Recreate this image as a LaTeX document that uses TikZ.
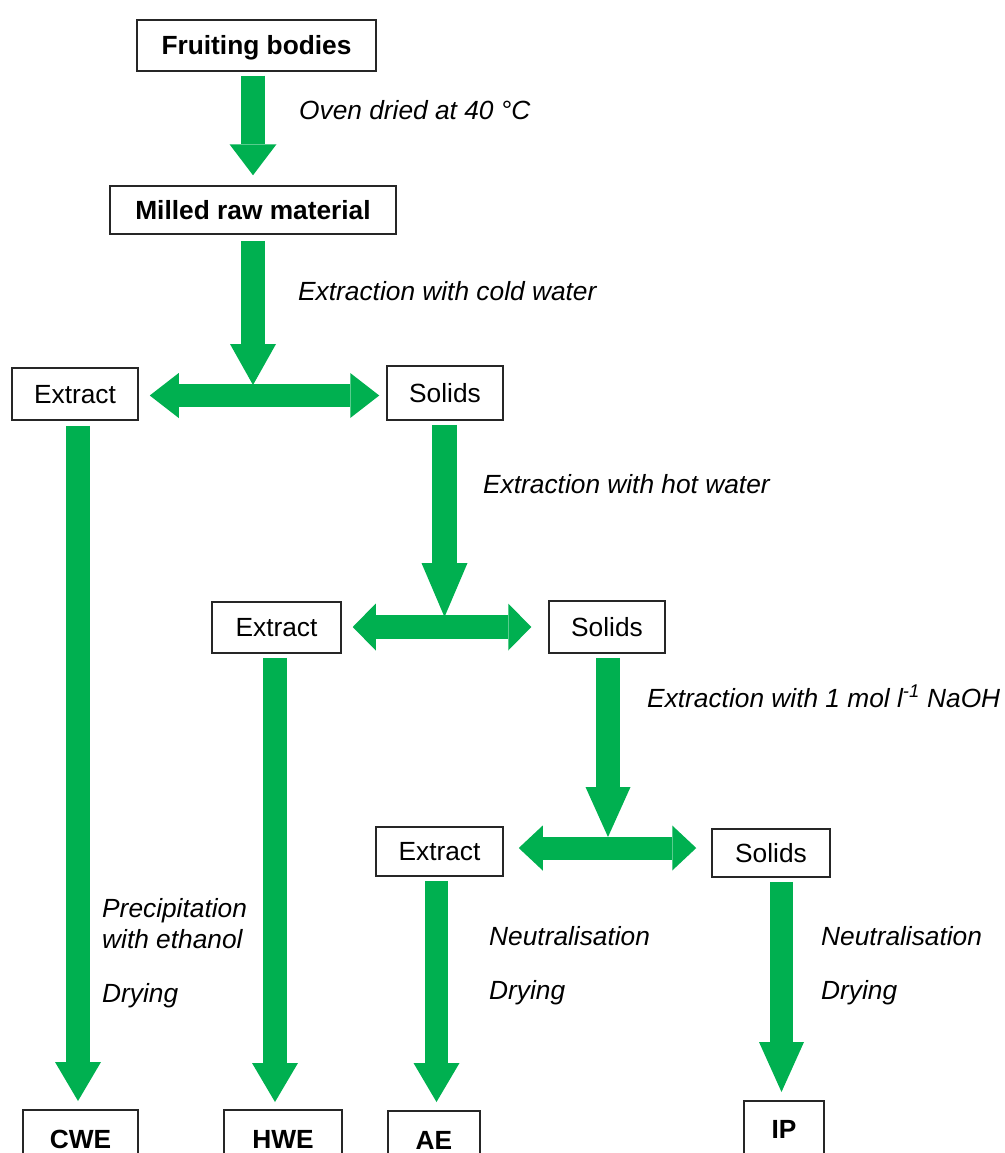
\documentclass[tikz,border=0pt]{standalone}
\usepackage{fontspec}
\setmainfont{Liberation Sans}
\usetikzlibrary{arrows.meta}
\definecolor{arrgreen}{RGB}{0,176,80}
\tikzset{
  box/.style={draw=black!85, line width=1.5pt, inner sep=0pt, text height=18.8pt, text depth=0pt, font=\fontsize{26.3}{31}\selectfont},
  boldbox/.style={box, font=\fontsize{26.3}{31}\selectfont\bfseries},
  lbl/.style={anchor=base west, inner sep=0pt, font=\fontsize{26.3}{31}\selectfont\itshape},
  fat/.style={draw=arrgreen, line width=#1},
  fat/.default=24pt,
}
\begin{document}
\begin{tikzpicture}[x=1pt,y=-1pt]
\useasboundingbox (0,0) rectangle (1004,1153);
\clip (0,0) rectangle (1004,1153);
% boxes
\node[boldbox, minimum width=239pt, minimum height=51pt] (fb) at (256.5,45.5) {Fruiting bodies};
\node[boldbox, minimum width=286pt, minimum height=48pt] (mrm) at (253,210) {Milled raw material};
\node[box, minimum width=126pt, minimum height=52pt] (ex1) at (75,394) {Extract};
\node[box, minimum width=116pt, minimum height=54pt] (so1) at (445,393) {Solids};
\node[box, minimum width=129pt, minimum height=51pt] (ex2) at (276.5,627.5) {Extract};
\node[box, minimum width=116pt, minimum height=52pt] (so2) at (607,627) {Solids};
\node[box, minimum width=127pt, minimum height=49pt] (ex3) at (439.5,851.5) {Extract};
\node[box, minimum width=118pt, minimum height=48pt] (so3) at (771,853) {Solids};
\node[boldbox, anchor=north, minimum width=115pt, minimum height=58pt] (cwe) at (80.5,1109) {CWE};
\node[boldbox, anchor=north, minimum width=118pt, minimum height=58pt] (hwe) at (283,1109) {HWE};
\node[boldbox, anchor=north, minimum width=92pt, minimum height=58pt] (ae) at (434,1110) {AE};
\node[boldbox, anchor=north, minimum width=80pt, minimum height=56pt] (ip) at (784,1100) {IP};
% junction points on the double arrows
\coordinate (j1) at (253,385);
\coordinate (j2) at (444.5,617);
\coordinate (j3) at (608,837);
% labels
\node[lbl] (oven) at (299,120) {Oven dried at 40 °C};
\node[lbl] (cold) at (298,300) {Extraction with cold water};
\node[lbl] (hot) at (483,493) {Extraction with hot water};
\node[lbl] (naoh) at (647,707) {Extraction with 1 mol l\textsuperscript{-1} NaOH};
\node[lbl] (prec1) at (102,917) {Precipitation};
\node[lbl] (prec2) at (102,948) {with ethanol};
\node[lbl] (dry1) at (102,1002) {Drying};
\node[lbl] (neut2) at (489,945) {Neutralisation};
\node[lbl] (dry2) at (489,999) {Drying};
\node[lbl] (neut3) at (821,945) {Neutralisation};
\node[lbl] (dry3) at (821,999) {Drying};
% arrows
\draw[fat=24pt, -{Triangle[length=31pt,width=47pt,line width=0pt]}] ([xshift=-3.5pt,yshift=-4pt]fb.south) -- ([yshift=10pt]mrm.north);
\draw[fat=24pt, -{Triangle[length=41pt,width=46pt,line width=0pt]}] ([yshift=-6pt]mrm.south) -- (j1);
\draw[fat=23pt, {Triangle[length=29pt,width=45pt,line width=0pt]}-{Triangle[length=29pt,width=45pt,line width=0pt]}] ([xshift=11pt,yshift=-1.5pt]ex1.east) -- ([xshift=-7pt,yshift=-2.5pt]so1.west);
\draw[fat=25pt, -{Triangle[length=54pt,width=46pt,line width=0pt]}] ([xshift=-0.5pt,yshift=-4pt]so1.south) -- (j2);
\draw[fat=24pt, {Triangle[length=23pt,width=47pt,line width=0pt]}-{Triangle[length=23pt,width=47pt,line width=0pt]}] ([xshift=11pt,yshift=0.5pt]ex2.east) -- ([xshift=-17pt]so2.west);
\draw[fat=24pt, -{Triangle[length=39pt,width=46pt,line width=0pt]}] ([xshift=3pt,yshift=-5pt]ex1.south) -- ([xshift=-2.5pt,yshift=8pt]cwe.north);
\draw[fat=24pt, -{Triangle[length=39pt,width=46pt,line width=0pt]}] ([xshift=-1.5pt,yshift=-4pt]ex2.south) -- ([xshift=-8pt,yshift=7pt]hwe.north);
\draw[fat=24pt, -{Triangle[length=50pt,width=45pt,line width=0pt]}] ([xshift=1pt,yshift=-4pt]so2.south) -- (j3);
\draw[fat=23pt, {Triangle[length=24pt,width=45pt,line width=0pt]}-{Triangle[length=24pt,width=45pt,line width=0pt]}] ([xshift=15pt,yshift=3.5pt]ex3.east) -- ([xshift=-15pt,yshift=5pt]so3.west);
\draw[fat=23pt, -{Triangle[length=39pt,width=46pt,line width=0pt]}] ([xshift=-3pt,yshift=-4pt]ex3.south) -- ([xshift=2.5pt,yshift=8pt]ae.north);
\draw[fat=23pt, -{Triangle[length=50pt,width=45pt,line width=0pt]}] ([xshift=10.5pt,yshift=-4pt]so3.south) -- ([xshift=-2.5pt,yshift=8pt]ip.north);
\end{tikzpicture}
\end{document}
